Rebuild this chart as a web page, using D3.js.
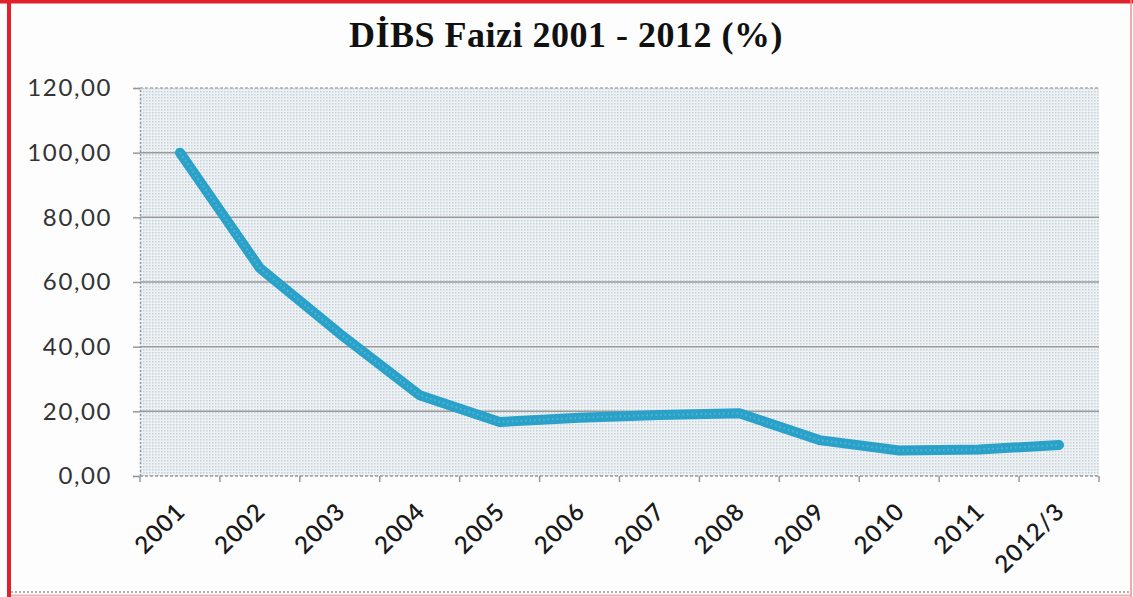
<!DOCTYPE html>
<html>
<head>
<meta charset="utf-8">
<script src="https://cdn.jsdelivr.net/npm/d3@7"></script>
<style>
  body { margin: 0; background: #fff; }
  svg { display: block; }
</style>
</head>
<body>
<div id="chart"></div>
<script>
// DİBS faizi, yillik (%)
const categories = ['2001', '2002', '2003', '2004', '2005', '2006', '2007', '2008', '2009', '2010', '2011', '2012/3'];
const rates = [100.0, 64.3, 44.0, 25.0, 16.7, 18.0, 18.9, 19.4, 11.1, 7.9, 8.2, 9.6];
const yTicks = [0, 20, 40, 60, 80, 100, 120];
const title = 'DİBS Faizi 2001 - 2012 (%)';

const W = 1133, H = 597;
const margin = { top: 88, right: 34, bottom: 121, left: 140 };
const width = W - margin.left - margin.right;
const height = H - margin.top - margin.bottom;

const svg = d3.select('#chart').append('svg')
    .attr('width', W)
    .attr('height', H);

// dotted texture for plot area
const defs = svg.append('defs');
const pat = defs.append('pattern')
    .attr('id', 'dots')
    .attr('width', 3)
    .attr('height', 3)
    .attr('patternUnits', 'userSpaceOnUse');
pat.append('rect').attr('width', 3).attr('height', 3).attr('fill', '#eef2f5');
pat.append('rect').attr('width', 1.5).attr('height', 1.5).attr('fill', '#c6d0d7');

// outer frame
svg.append('rect')
    .attr('x', 0).attr('y', 0).attr('width', W).attr('height', H)
    .attr('fill', '#fdfdfd');
svg.append('line')
    .attr('x1', 9).attr('x2', 9).attr('y1', 0).attr('y2', H)
    .attr('stroke', '#e0202a').attr('stroke-width', 4);
svg.append('line')
    .attr('x1', 0).attr('x2', W).attr('y1', 1.5).attr('y2', 1.5)
    .attr('stroke', '#e0202a').attr('stroke-width', 4);
svg.append('line')
    .attr('x1', W - 2).attr('x2', W - 2).attr('y1', 0).attr('y2', H)
    .attr('stroke', '#f08a8f').attr('stroke-width', 1.5);
svg.append('line')
    .attr('x1', 11).attr('x2', W - 3).attr('y1', 592).attr('y2', 592)
    .attr('stroke', '#999').attr('stroke-width', 1.5)
    .attr('stroke-dasharray', '2,2');
svg.append('line')
    .attr('x1', 11).attr('x2', W - 3).attr('y1', 595.5).attr('y2', 595.5)
    .attr('stroke', '#f3b0b3').attr('stroke-width', 2);

// title
svg.append('text')
    .attr('x', 566)
    .attr('y', 47)
    .attr('text-anchor', 'middle')
    .attr('font-family', '"Liberation Serif", "DejaVu Serif", serif')
    .attr('font-weight', 'bold')
    .attr('font-size', '36px')
    .attr('letter-spacing', '0.5px')
    .attr('fill', '#111')
    .text(title);

const g = svg.append('g')
    .attr('transform', `translate(${margin.left},${margin.top})`);

const x = d3.scaleBand()
    .domain(categories)
    .range([0, width]);

const y = d3.scaleLinear()
    .domain([0, 120])
    .range([height, 0]);

// plot background
g.append('rect')
    .attr('width', width)
    .attr('height', height)
    .attr('fill', 'url(#dots)');

// gridlines
g.selectAll('.grid')
    .data(yTicks.filter(d => d > 0))
    .join('line')
    .attr('class', 'grid')
    .attr('x1', 0)
    .attr('x2', width)
    .attr('y1', d => y(d))
    .attr('y2', d => y(d))
    .attr('stroke', d => d === 120 ? '#aaa' : '#9a9a9a')
    .attr('stroke-width', 1.5)
    .attr('stroke-dasharray', d => d === 120 ? '3,2' : null);

// y axis
const yAxis = g.append('g')
    .call(d3.axisLeft(y)
        .tickValues(yTicks)
        .tickSize(7)
        .tickFormat(d => d3.format('.2f')(d).replace('.', ',')));
yAxis.select('.domain')
    .attr('stroke', '#999')
    .attr('stroke-width', 1.5)
    .attr('stroke-dasharray', '2,2');
yAxis.selectAll('.tick line').attr('stroke', '#999').attr('stroke-width', 1.5);
yAxis.selectAll('.tick text')
    .attr('x', -28)
    .attr('font-family', 'Lato, "Open Sans", sans-serif')
    .attr('font-size', '24px')
    .attr('letter-spacing', '1.6px')
    .attr('fill', '#333');

// x axis: ticks at category boundaries
const xBottom = g.append('g')
    .attr('transform', `translate(0,${height})`);
xBottom.append('line')
    .attr('x1', 0).attr('x2', width)
    .attr('stroke', '#999')
    .attr('stroke-width', 1.5)
    .attr('stroke-dasharray', '3,2');
xBottom.selectAll('.xtick')
    .data(categories.concat(['end']))
    .join('line')
    .attr('class', 'xtick')
    .attr('x1', (d, i) => i * x.step())
    .attr('x2', (d, i) => i * x.step())
    .attr('y1', 0)
    .attr('y2', 6)
    .attr('stroke', '#999')
    .attr('stroke-width', 1.5);
xBottom.selectAll('.xlabel')
    .data(categories)
    .join('text')
    .attr('class', 'xlabel')
    .attr('transform', d => `translate(${x(d) + x.bandwidth() / 2 + 1},${31}) rotate(-45)`)
    .attr('text-anchor', 'end')
    .attr('dy', '0.35em')
    .attr('font-family', 'Lato, "Open Sans", sans-serif')
    .attr('font-size', '24px')
    .attr('font-weight', '600')
    .attr('letter-spacing', '1px')
    .attr('fill', '#1a1a1a')
    .text(d => d);

// series line
const line = d3.line()
    .x((d, i) => x(categories[i]) + x.bandwidth() / 2)
    .y(d => y(d));

g.append('path')
    .datum(rates)
    .attr('d', line)
    .attr('fill', 'none')
    .attr('stroke', '#2aa1c8')
    .attr('stroke-width', 10)
    .attr('stroke-linejoin', 'round')
    .attr('stroke-linecap', 'round');
g.append('path')
    .datum(rates)
    .attr('d', line)
    .attr('fill', 'none')
    .attr('stroke', '#6cc3de')
    .attr('stroke-width', 2)
    .attr('stroke-dasharray', '1.5,3')
    .attr('stroke-opacity', 0.6);
</script>
</body>
</html>
